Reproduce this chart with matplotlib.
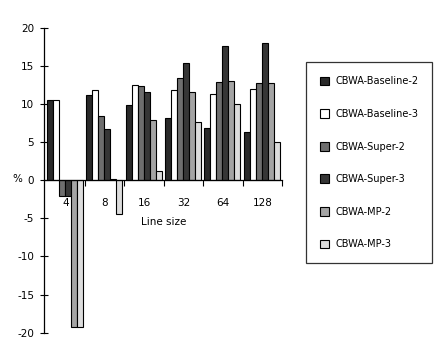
import numpy as np
import matplotlib
matplotlib.use('Agg')
import matplotlib.pyplot as plt

# values (%)
line_sizes = ['4', '8', '16', '32', '64', '128']
series = ['CBWA-Baseline-2', 'CBWA-Baseline-3', 'CBWA-Super-2',
          'CBWA-Super-3', 'CBWA-MP-2', 'CBWA-MP-3']
baseline2 = [10.5, 11.1, 9.8, 8.2, 6.8, 6.3]
baseline3 = [10.5, 11.8, 12.4, 11.8, 11.3, 12.0]
super2 = [-2.1, 8.4, 12.3, 13.4, 12.8, 12.7]
super3 = [-2.1, 6.7, 11.5, 15.4, 17.6, 18.0]
mp2 = [-19.3, 0.1, 7.9, 11.6, 13.0, 12.7]
mp3 = [-19.3, -4.5, 1.2, 7.6, 10.0, 5.0]
yticks = [20, 15, 10, 5, 0, -5, -10, -15, -20]

colors = ['#2a2a2a', '#ffffff', '#6e6e6e', '#363636', '#a4a4a4', '#dcdcdc']

fig = plt.figure(figsize=(4.47, 3.51), dpi=100)
ax = fig.add_axes([44 / 447, 1 - 332.7 / 351, (282 - 44) / 447, (332.7 - 27.5) / 351])

x = np.arange(len(line_sizes))
w = 0.152
for j, vals in enumerate([baseline2, baseline3, super2, super3, mp2, mp3]):
    ax.bar(x + 0.03 + j * w, vals, w, align='edge', color=colors[j],
           edgecolor='black', linewidth=0.8, label=series[j], zorder=2)

ax.set_xlim(-0.04, 6.0)
ax.set_ylim(-20, 20)

for s in ['top', 'right']:
    ax.spines[s].set_visible(False)
ax.spines['left'].set_linewidth(0.9)
ax.spines['bottom'].set_position(('data', 0))
ax.spines['bottom'].set_linewidth(0.9)
ax.spines['bottom'].set_zorder(3)

ax.set_yticks(yticks)
ax.set_yticklabels([str(v) for v in yticks])
ax.tick_params(axis='y', direction='inout', length=6, width=0.8, pad=4, labelsize=7.5)

ax.set_xticks(np.arange(1, 7))
ax.set_xticklabels([])
ax.tick_params(axis='x', which='major', direction='out', length=4, width=0.8)
ax.set_xticks(x + 0.5, minor=True)
ax.set_xticklabels(line_sizes, minor=True)
ax.tick_params(axis='x', which='minor', length=0, pad=13, labelsize=7.5)

ax.text(3.0, -5.5, 'Line size', ha='center', va='center', fontsize=7.5)
fig.text(12 / 447, 1 - 179 / 351, '%', ha='left', va='center', fontsize=7.5)

leg = fig.legend(loc='upper left', bbox_to_anchor=(305.7 / 447, 1 - 62.3 / 351),
                 bbox_transform=fig.transFigure, borderaxespad=0, fontsize=7,
                 frameon=True, fancybox=False, edgecolor='black',
                 handlelength=1.0, handleheight=1.0, handletextpad=0.6,
                 labelspacing=2.33, borderpad=1.43)
leg.get_frame().set_linewidth(0.9)

fig.savefig('out.png', dpi=100, facecolor='white')
